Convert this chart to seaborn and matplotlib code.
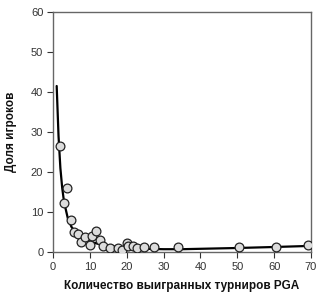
import matplotlib
matplotlib.use("Agg")
import matplotlib.pyplot as plt
import seaborn as sns
import pandas as pd

# Observed share of players by number of PGA tournaments won
wins = [2, 3, 3.9, 4.9, 5.8, 6.9, 7.6, 8.7, 10, 10.6, 11.8, 12.8, 13.6, 15.5,
        17.7, 18.6, 20, 20.3, 21.8, 22.7, 24.7, 27.5, 33.8, 50.5, 60.5, 69.2]
share = [26.5, 12.2, 15.9, 7.9, 5.1, 4.5, 2.5, 3.8, 1.7, 4.0, 5.3, 2.9, 1.4, 1.1,
         1.1, 0.6, 2.3, 1.5, 1.6, 0.9, 1.2, 1.2, 1.25, 1.2, 1.3, 1.7]

# Fitted curve
fit_x = [1.0, 1.5, 2, 2.5, 3, 4, 5, 6, 7, 8, 10, 12, 14, 17, 20, 25, 30, 35,
         40, 50, 60, 69]
fit_y = [41.5, 29, 21, 16, 12.5, 8.5, 6.3, 5.0, 4.1, 3.4, 2.6, 2.1, 1.7, 1.3,
         1.0, 0.8, 0.7, 0.7, 0.8, 1.0, 1.25, 1.5]

x_ticks = [0, 10, 20, 30, 40, 50, 60, 70]
y_ticks = [0, 10, 20, 30, 40, 50, 60]

sns.set_style("ticks")
plt.rcParams["font.family"] = ["Liberation Sans", "DejaVu Sans"]

fig = plt.figure(figsize=(3.3, 3.03), dpi=100)
ax = fig.add_axes([53 / 330, 51 / 303, 258 / 330, 240 / 303])

pts = pd.DataFrame({"x": wins, "y": share})
fit = pd.DataFrame({"x": fit_x, "y": fit_y})

sns.lineplot(data=fit, x="x", y="y", ax=ax, color="black", linewidth=1.6,
             zorder=2)
sns.scatterplot(data=pts, x="x", y="y", ax=ax, s=40, color="#dcdcdc",
                edgecolor="#222222", linewidth=0.9, zorder=3)

ax.set_xlim(0, 70)
ax.set_ylim(0, 60)
ax.set_xticks(x_ticks)
ax.set_yticks(y_ticks)
ax.tick_params(axis="both", labelsize=8, colors="#333333", length=4,
               width=0.8, pad=3)
for side in ["left", "bottom", "top", "right"]:
    ax.spines[side].set_color("#666666")
    ax.spines[side].set_linewidth(1.0)
ax.set_xlabel("Количество выигранных турниров PGA", fontsize=8.5,
              fontweight="bold", color="#111111", labelpad=6)
ax.set_ylabel("Доля игроков", fontsize=8.5, fontweight="bold",
              color="#111111", labelpad=10)

fig.savefig("out.png", dpi=100)
